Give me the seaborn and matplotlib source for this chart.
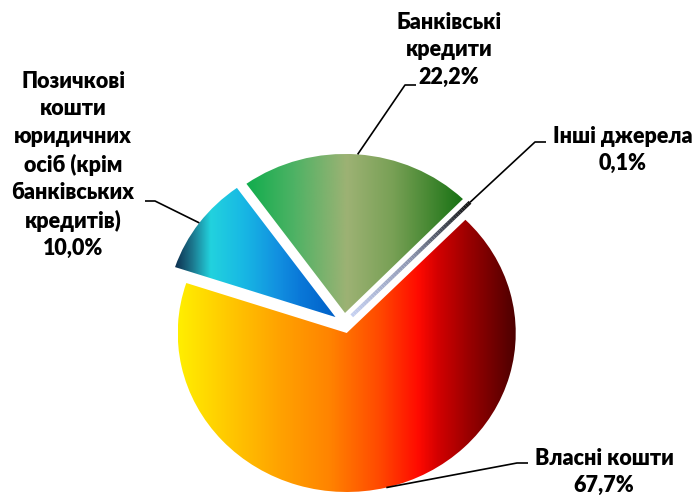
import numpy as np
import matplotlib
matplotlib.use("Agg")
import matplotlib.pyplot as plt
import seaborn as sns
from matplotlib.colors import LinearSegmentedColormap
from matplotlib.collections import LineCollection

# ---------------- data ----------------
categories = ["Власні кошти",
              "Позичкові кошти юридичних осіб (крім банківських кредитів)",
              "Банківські кредити",
              "Інші джерела"]
label_texts = ["Власні кошти",
               "Позичкові\nкошти\nюридичних\nосіб (крім\nбанківських\nкредитів)",
               "Банківські\nкредити",
               "Інші джерела"]
values = [67.7, 10.0, 22.2, 0.1]

# ---------------- style ----------------
sns.set_theme(style="white")
plt.rcParams['font.family'] = ['Lato', 'DejaVu Sans']

gradients = [
    [(0.0, "#FFEE00"), (0.18, "#FFC000"), (0.30, "#FFA200"), (0.447, "#FF8400"),
     (0.595, "#FF4A00"), (0.713, "#FF0A00"), (0.772, "#D20000"), (0.861, "#9A0000"),
     (1.0, "#4E0000")],
    [(0.0, "#0E3050"), (0.11, "#1C7A90"), (0.22, "#22D2DE"), (0.425, "#18B8E4"),
     (0.64, "#1290E0"), (0.78, "#0A78D8"), (1.0, "#0060C8")],
    [(0.0, "#10AD4D"), (0.214, "#4CB264"), (0.465, "#9DB274"), (0.679, "#78A055"),
     (0.837, "#4A8A35"), (1.0, "#187214")],
    [(0.0, "#C5D0F0"), (0.5, "#8C95B0"), (0.8, "#404550"), (1.0, "#151515")],
]

# pixel layout of the pie (centre and radii in pixels)
W, H = 700, 495
CX, CY, RX, RY = 344.2, 323.1, 169.0, 159.0

def dx(px):
    return (px - CX) / RX

def dy(py):
    return (CY - py) / RY

fig = plt.figure(figsize=(W / 100, H / 100), dpi=100)
ax = fig.add_axes([0, 0, 1, 1])

wedges, _ = ax.pie(values, explode=[0.064] * len(values), startangle=45.4,
                   counterclock=False, radius=1.0,
                   wedgeprops=dict(linewidth=0))

grad = np.linspace(0, 1, 600)[None, :]
for w, stops in zip(wedges, gradients):
    ext = w.get_path().get_extents()
    cmap = LinearSegmentedColormap.from_list("g", stops)
    im = ax.imshow(grad, cmap=cmap, extent=[ext.x0, ext.x1, ext.y0, ext.y1],
                   aspect='auto', origin='lower', interpolation='bilinear',
                   zorder=2)
    im.set_clip_path(w)
    w.set_facecolor('none')

# tiny slice: draw a thin gradient stroke along it so it is visible
wg = wedges[3]
mid = np.deg2rad((wg.theta1 + wg.theta2) / 2)
t = np.linspace(0, 1, 60)
xs = wg.center[0] + t * wg.r * np.cos(mid)
ys = wg.center[1] + t * wg.r * np.sin(mid)
pts = np.column_stack([xs, ys]).reshape(-1, 1, 2)
segs = np.concatenate([pts[:-1], pts[1:]], axis=1)
lc = LineCollection(segs, cmap=LinearSegmentedColormap.from_list("gg", gradients[3]),
                    linewidths=2.8, zorder=3, capstyle='butt')
lc.set_array(t[:-1])
ax.add_collection(lc)

# ---------------- labels + leader lines ----------------
def fmt(v):
    return f"{v:.1f}".replace('.', ',') + '%'

label_pos = [(604, 472), (73, 165), (449, 50), (623, 150)]
elbows = [((517, 463), (528, 463)),
          ((155, 201), (145, 201)),
          ((405, 85), (416, 85)),
          ((535, 142), (546, 142))]

for w, txt, v, (tx, ty), (e1, e2) in zip(wedges, label_texts, values, label_pos, elbows):
    m = np.deg2rad((w.theta1 + w.theta2) / 2)
    px0 = w.center[0] + w.r * np.cos(m)
    py0 = w.center[1] + w.r * np.sin(m)
    ax.plot([px0, dx(e1[0]), dx(e2[0])], [py0, dy(e1[1]), dy(e2[1])],
            color='black', lw=1.2, zorder=4, solid_capstyle='butt')
    ax.text(dx(tx), dy(ty), f"{txt}\n{fmt(v)}", ha='center', va='center',
            multialignment='center', fontsize=15.5, fontweight='heavy',
            color='black', linespacing=1.37, zorder=5)

ax.set_aspect('auto')
ax.set_xlim(dx(0), dx(W))
ax.set_ylim(dy(H), dy(0))
ax.axis('off')

fig.savefig("out.png", dpi=100)
